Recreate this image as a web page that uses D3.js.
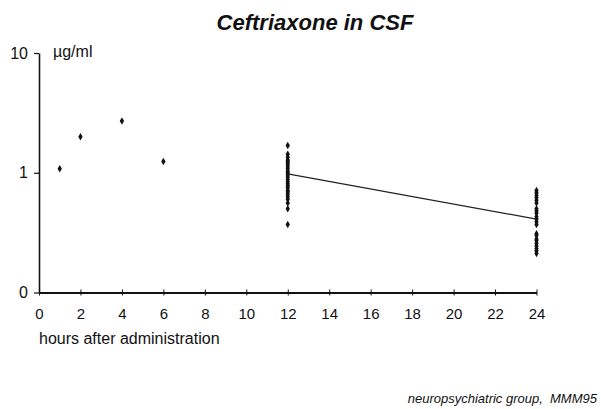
<!DOCTYPE html>
<html>
<head>
<meta charset="utf-8">
<script src="https://cdn.jsdelivr.net/npm/d3@7"></script>
<style>
  body { margin: 0; background: #fff; }
  svg { display: block; font-family: Arial, "Liberation Sans", sans-serif; }
  .axis path, .axis line { stroke: #111; }
  .axis text { fill: #111; font-family: Arial, "Liberation Sans", sans-serif; }
</style>
</head>
<body>
<script>
// early samples, one per time point
const earlyHours = [1, 2, 4, 6];
const earlyConc = [1.08, 2.0, 2.7, 1.24];

// samples at 12 h
const conc12 = [1.69, 1.43, 1.35, 1.28, 1.25, 1.21, 1.17, 1.12, 1.08, 1.03, 1.0,
  0.96, 0.92, 0.88, 0.84, 0.81, 0.78, 0.75, 0.71, 0.69, 0.66, 0.63, 0.60, 0.56, 0.50, 0.37];

// samples at 24 h
const conc24 = [0.71, 0.68, 0.65, 0.62, 0.59, 0.56, 0.50, 0.48, 0.46, 0.43, 0.41,
  0.39, 0.37, 0.31, 0.30, 0.28, 0.27, 0.257, 0.244, 0.233, 0.223, 0.212];

// line joining the 12 h and 24 h means
const lineHours = [12, 24];
const lineConc = [0.98, 0.41];

const xTicks = [0, 2, 4, 6, 8, 10, 12, 14, 16, 18, 20, 22, 24];
const yTicks = [0.1, 1, 10];
const yTickLabels = ["0", "1", "10"];

const W = 601, H = 409;
const svg = d3.select("body").append("svg").attr("width", W).attr("height", H);

const x = d3.scaleLinear().domain([0, 24]).range([39, 536.5]);
const y = d3.scaleLog().domain([0.1, 10]).range([292.5, 53]);

// title
svg.append("text")
  .attr("x", 315).attr("y", 30)
  .attr("text-anchor", "middle")
  .attr("font-size", 22).attr("font-weight", "bold").attr("font-style", "italic")
  .attr("fill", "#111")
  .text("Ceftriaxone in CSF");

// y axis
const yAxis = svg.append("g").attr("class", "axis")
  .attr("transform", "translate(" + x(0) + ",0)")
  .call(d3.axisLeft(y).tickValues(yTicks).tickSize(5).tickSizeOuter(0)
    .tickFormat((d, i) => yTickLabels[i]));
yAxis.select(".domain").attr("stroke-width", 1.6);
yAxis.selectAll(".tick line").attr("stroke-width", 1.2);
yAxis.selectAll(".tick text").attr("x", -11).attr("font-size", 16);

// x axis
const xAxis = svg.append("g").attr("class", "axis")
  .attr("transform", "translate(0," + y(0.1) + ")")
  .call(d3.axisBottom(x).tickValues(xTicks).tickSize(3).tickSizeOuter(0));
xAxis.select(".domain").attr("stroke-width", 2);
xAxis.selectAll(".tick line").attr("y1", -3).attr("stroke-width", 1);
xAxis.selectAll(".tick text").attr("y", 16).attr("dy", "0.71em").attr("font-size", 15);

// axis captions
svg.append("text")
  .attr("x", 53).attr("y", 57)
  .attr("font-size", 16).attr("fill", "#111")
  .text("µg/ml");
svg.append("text")
  .attr("x", 39).attr("y", 344)
  .attr("font-size", 16).attr("fill", "#111")
  .text("hours after administration");

// the line
svg.append("path")
  .datum(lineHours.map((h, i) => [h, lineConc[i]]))
  .attr("fill", "none").attr("stroke", "#222").attr("stroke-width", 1.2)
  .attr("d", d3.line().x(d => x(d[0])).y(d => y(d[1])));

// points
const points = earlyHours.map((h, i) => [h, earlyConc[i]])
  .concat(conc12.map(c => [12, c]))
  .concat(conc24.map(c => [24, c]));

const sym = d3.symbol().type(d3.symbolDiamond).size(16);
svg.append("g").selectAll("path")
  .data(points)
  .enter()
  .append("path")
  .attr("d", sym)
  .attr("fill", "#111")
  .attr("transform", d => "translate(" + x(d[0]) + "," + y(d[1]) + ")");

// footer
svg.append("text")
  .attr("x", 597).attr("y", 403)
  .attr("text-anchor", "end")
  .attr("xml:space", "preserve")
  .style("white-space", "pre")
  .attr("font-size", 13).attr("font-style", "italic").attr("fill", "#111")
  .text("neuropsychiatric group,  MMM95");
</script>
</body>
</html>
